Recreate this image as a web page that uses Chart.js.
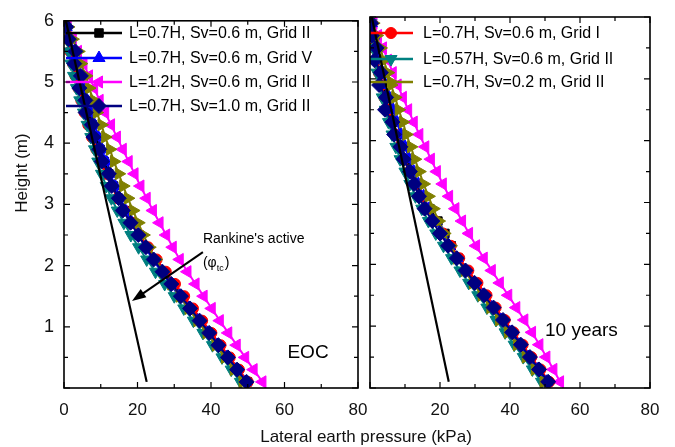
<!DOCTYPE html>
<html>
<head>
<meta charset="utf-8">
<script src="https://cdn.jsdelivr.net/npm/chart.js@4/dist/chart.umd.min.js"></script>
<style>
  body { margin: 0; background: #fff; }
  #wrap { position: relative; width: 675px; height: 447px; }
  #wrap canvas { position: absolute; left: 0; top: 0; }
</style>
</head>
<body>
<div id="wrap">
  <canvas id="eocChart" width="675" height="447"></canvas>
  <canvas id="yearsChart" width="675" height="447"></canvas>
</div>
<script>
// heights of the measuring points (m), shared by all series
const heights = [0.1,0.3,0.5,0.7,0.9,1.1,1.3,1.5,1.7,1.9,2.1,2.3,2.5,2.7,2.9,3.1,3.3,3.5,3.7,3.9,4.1,4.3,4.5,4.7,4.9,5.1,5.3,5.5,5.7,5.9];

const xTicks = [0, 20, 40, 60, 80];
const yTicks = [0, 1, 2, 3, 4, 5, 6];

const seriesLabels = [
  'L=0.7H, Sv=0.6 m, Grid II',
  'L=0.7H, Sv=0.6 m, Grid V',
  'L=1.2H, Sv=0.6 m, Grid II',
  'L=0.7H, Sv=1.0 m, Grid II',
  'L=0.7H, Sv=0.6 m, Grid I',
  'L=0.57H, Sv=0.6 m, Grid II',
  'L=0.7H, Sv=0.2 m, Grid II'
];

// lateral earth pressure (kPa) at end of construction
const eocBlack   = [49.9,47.4,44.9,42.3,39.8,37.2,34.6,32.1,29.6,27.1,24.7,22.5,20.4,18.3,16.4,14.9,13.5,12.2,11.0,9.8,8.7,7.7,6.6,5.7,4.7,3.8,2.9,2.1,1.3,0.5];
const eocBlue    = [49.3,46.8,44.2,41.6,39.0,36.4,33.9,31.3,28.9,26.5,24.2,22.1,20.2,18.4,16.7,15.2,13.9,12.6,11.5,10.3,9.3,8.3,7.3,6.3,5.3,4.3,3.3,2.4,1.5,0.6];
const eocMagenta = [54.0,51.6,49.3,47.0,44.7,42.4,40.2,38.0,35.8,33.6,31.5,29.6,27.8,26.0,24.2,22.5,20.8,19.2,17.6,16.0,14.4,12.8,11.2,9.7,8.2,6.8,5.3,3.8,2.4,1.0];
const eocNavy    = [49.7,47.1,44.6,42.0,39.5,36.9,34.3,31.8,29.2,26.8,24.4,22.3,20.2,18.1,16.0,14.9,13.0,12.2,10.3,9.6,8.0,7.6,5.9,5.8,4.2,4.6,2.8,3.1,1.3,0.6];
const eocRed     = [50.0,47.6,45.1,42.6,40.1,37.6,35.1,32.7,30.2,27.7,25.2,22.9,20.6,18.5,16.4,14.6,13.0,11.5,10.1,8.8,7.6,6.6,5.6,4.7,3.9,3.1,2.4,1.7,1.0,0.4];
const eocTeal    = [48.0,45.5,43.0,40.4,37.8,35.2,32.6,30.0,27.4,24.9,22.5,20.3,18.2,16.3,14.5,12.9,11.5,10.2,9.2,8.3,7.3,6.3,5.3,4.3,3.4,2.6,1.9,1.3,0.8,0.3];
const eocOlive   = [48.6,46.2,43.8,41.3,38.8,36.3,33.9,31.5,29.2,27.0,25.0,23.2,21.6,20.2,18.8,17.4,16.1,14.9,13.6,12.5,11.2,10.2,8.9,8.1,6.8,6.0,4.6,3.9,2.3,1.1];

// lateral earth pressure (kPa) after 10 years
const yrsBlack   = [50.7,48.2,45.6,43.1,40.5,37.9,35.3,32.7,30.1,27.5,25.2,23.2,21.4,19.4,17.1,14.9,13.2,11.6,10.2,8.9,7.7,6.6,5.5,4.5,3.6,2.8,2.0,1.3,0.7,0.3];
const yrsBlue    = [50.4,47.8,45.2,42.6,40.0,37.4,34.8,32.2,29.7,27.2,24.8,22.6,20.6,18.7,16.9,15.3,13.8,12.5,11.2,10.0,8.8,7.7,6.6,5.5,4.5,3.6,2.7,1.9,1.1,0.4];
const yrsMagenta = [54.3,52.4,50.4,48.4,46.3,44.1,41.8,39.5,37.1,34.8,32.5,30.3,28.3,26.3,24.4,22.6,20.8,19.1,17.4,15.8,14.1,12.5,10.9,9.4,7.9,6.5,5.1,3.7,2.3,1.0];
const yrsNavy    = [50.9,48.3,45.7,43.1,40.6,38.0,35.3,32.6,29.9,27.3,24.8,22.3,20.0,17.8,15.6,14.0,12.6,11.4,9.6,8.7,6.9,6.4,4.3,4.6,2.6,3.1,1.3,1.9,0.5,0.3];
const yrsRed     = [51.2,48.7,46.1,43.6,41.0,38.5,35.9,33.3,30.7,28.1,25.5,23.1,20.8,18.6,16.4,14.5,12.8,11.2,9.7,8.4,7.2,6.1,5.1,4.1,3.2,2.5,1.8,1.2,0.6,0.2];
const yrsTeal    = [49.0,46.4,43.8,41.2,38.6,36.0,33.4,30.8,28.2,25.7,23.3,21.0,18.8,16.7,14.8,13.0,11.4,10.0,8.6,7.4,6.3,5.3,4.4,3.5,2.7,2.0,1.4,0.9,0.5,0.2];
const yrsOlive   = [49.6,47.1,44.5,42.0,39.4,36.9,34.4,31.9,29.4,27.1,24.9,23.0,21.2,19.6,18.1,16.7,15.3,14.1,12.8,11.7,10.4,9.4,8.2,7.2,6.0,5.1,3.9,3.0,1.9,0.9];

// Rankine's active line (two end points)
const rankineHeight   = [6.0, 0.1];
const rankinePressure = [0.5, 22.5];

// marker styling, same order as seriesLabels
const seriesColors = ['#000000', '#0000ff', '#ff00ff', '#000080', '#ff0000', '#008080', '#808000'];
const seriesShapes = ['rect', 'triangle', 'triangle', 'rectRot', 'circle', 'triangle', 'triangle'];
const seriesRotation = [0, 0, 270, 0, 0, 180, 90];
const seriesRadius = [6, 7, 7, 7.5, 5.5, 7, 7];
const seriesOrder = [6, 4, 7, 1, 5, 3, 2];

Chart.defaults.font.family = '"Liberation Sans", Arial, sans-serif';
Chart.defaults.color = '#111';

function buildDatasets(valueSets) {
  const sets = valueSets.map((vals, i) => ({
    label: seriesLabels[i],
    data: heights.map((h, k) => ({ x: vals[k], y: h })),
    showLine: true,
    borderColor: seriesColors[i],
    backgroundColor: seriesColors[i],
    pointBackgroundColor: seriesColors[i],
    pointBorderColor: seriesColors[i],
    borderWidth: 2,
    pointBorderWidth: 1,
    pointStyle: seriesShapes[i],
    rotation: seriesRotation[i],
    pointRadius: seriesRadius[i],
    order: seriesOrder[i]
  }));
  sets.push({
    label: 'Rankine',
    data: rankineHeight.map((h, k) => ({ x: rankinePressure[k], y: h })),
    showLine: true,
    borderColor: '#000',
    borderWidth: 2.2,
    pointRadius: 0,
    order: 0
  });
  return sets;
}

function decorPlugin(cfg) {
  return {
    id: 'decor',
    afterDatasetsDraw(chart) {
      const ctx = chart.ctx;
      const { x, y } = chart.scales;
      ctx.save();
      // legend inside the panel
      cfg.legend.forEach((idx, r) => {
        const ds = chart.data.datasets[idx];
        const yy = cfg.legendRows[r];
        ctx.strokeStyle = ds.borderColor;
        ctx.fillStyle = ds.borderColor;
        ctx.lineWidth = 2.5;
        ctx.beginPath();
        ctx.moveTo(cfg.legendX[0], yy);
        ctx.lineTo(cfg.legendX[1], yy);
        ctx.stroke();
        ctx.lineWidth = 1;
        Chart.helpers.drawPoint(ctx, {
          pointStyle: ds.pointStyle, rotation: ds.rotation,
          radius: ds.pointRadius, borderWidth: 1
        }, cfg.legendX[2], yy);
        ctx.fillStyle = '#000';
        ctx.font = '16px "Liberation Sans", Arial, sans-serif';
        ctx.textBaseline = 'middle';
        ctx.textAlign = 'left';
        ctx.fillText(ds.label, cfg.legendX[3], yy + 1);
      });
      // panel label
      ctx.fillStyle = '#000';
      ctx.font = '19px "Liberation Sans", Arial, sans-serif';
      ctx.textAlign = 'center';
      ctx.textBaseline = 'middle';
      ctx.fillText(cfg.tag[0], x.getPixelForValue(cfg.tag[1]), y.getPixelForValue(cfg.tag[2]));
      if (cfg.rankineNote) {
        const tx = x.getPixelForValue(37.8), ty = y.getPixelForValue(2.43);
        ctx.textAlign = 'left';
        ctx.font = '14px "Liberation Sans", Arial, sans-serif';
        ctx.fillText("Rankine's active", tx, ty);
        ctx.fillText('(φ', tx, ty + 24);
        let w = ctx.measureText('(φ').width;
        ctx.font = '9px "Liberation Sans", Arial, sans-serif';
        ctx.fillText('tc', tx + w, ty + 29);
        w += ctx.measureText('tc').width + 1;
        ctx.font = '14px "Liberation Sans", Arial, sans-serif';
        ctx.fillText(')', tx + w, ty + 24);
        // arrow
        const x0 = x.getPixelForValue(37.8), y0 = y.getPixelForValue(2.22);
        const x1 = x.getPixelForValue(18.5), y1 = y.getPixelForValue(1.42);
        const ang = Math.atan2(y1 - y0, x1 - x0);
        ctx.strokeStyle = '#000';
        ctx.lineWidth = 2;
        ctx.beginPath();
        ctx.moveTo(x0, y0);
        ctx.lineTo(x1 - 10 * Math.cos(ang), y1 - 10 * Math.sin(ang));
        ctx.stroke();
        ctx.beginPath();
        ctx.moveTo(x1, y1);
        ctx.lineTo(x1 - 14 * Math.cos(ang) + 5 * Math.sin(ang), y1 - 14 * Math.sin(ang) - 5 * Math.cos(ang));
        ctx.lineTo(x1 - 14 * Math.cos(ang) - 5 * Math.sin(ang), y1 - 14 * Math.sin(ang) + 5 * Math.cos(ang));
        ctx.closePath();
        ctx.fill();
      }
      ctx.restore();
    },
    afterDraw(chart) {
      const ctx = chart.ctx;
      const a = chart.chartArea;
      const { x, y } = chart.scales;
      ctx.save();
      ctx.strokeStyle = '#000';
      ctx.lineWidth = 1.6;
      ctx.strokeRect(a.left, a.top, a.right - a.left, a.bottom - a.top);
      ctx.lineWidth = 1.2;
      ctx.beginPath();
      for (let v = 0; v <= 80; v += 10) {
        const px = x.getPixelForValue(v), len = v % 20 === 0 ? 6 : 4;
        ctx.moveTo(px, a.bottom); ctx.lineTo(px, a.bottom - len);
        ctx.moveTo(px, a.top); ctx.lineTo(px, a.top + len);
      }
      for (let v = 0; v <= 6; v += 0.5) {
        const py = y.getPixelForValue(v), len = v % 1 === 0 ? 6 : 4;
        ctx.moveTo(a.left, py); ctx.lineTo(a.left + len, py);
        ctx.moveTo(a.right, py); ctx.lineTo(a.right - len, py);
      }
      ctx.stroke();
      if (cfg.axisTitles) {
        ctx.fillStyle = '#111';
        ctx.font = '17px "Liberation Sans", Arial, sans-serif';
        ctx.textAlign = 'center';
        ctx.textBaseline = 'middle';
        ctx.fillText('Lateral earth pressure (kPa)', 366, 437);
        ctx.translate(22, 173);
        ctx.rotate(-Math.PI / 2);
        ctx.fillText('Height (m)', 0, 0);
      }
      ctx.restore();
    }
  };
}

function makePanel(canvasId, valueSets, opts) {
  return new Chart(document.getElementById(canvasId), {
    type: 'scatter',
    data: { datasets: buildDatasets(valueSets) },
    options: {
      responsive: false,
      animation: false,
      layout: { padding: opts.padding },
      plugins: { legend: { display: false }, tooltip: { enabled: false } },
      scales: {
        x: {
          type: 'linear', min: 0, max: 80,
          grid: { display: false, drawTicks: false },
          border: { display: false },
          afterFit: s => { s.height = 59; },
          afterBuildTicks: s => { s.ticks = xTicks.map(v => ({ value: v })); },
          ticks: {
            padding: 12,
            font: { size: 17 },
            callback: v => (opts.hideZeroX && v === 0) ? '' : v
          }
        },
        y: {
          type: 'linear', min: 0, max: 6,
          grid: { display: false, drawTicks: false },
          border: { display: false },
          afterFit: s => { s.width = opts.yWidth; },
          afterBuildTicks: s => { s.ticks = yTicks.map(v => ({ value: v })); },
          ticks: {
            display: opts.showY,
            padding: 10,
            font: { size: 18 },
            callback: v => v === 0 ? '' : v
          }
        }
      }
    },
    plugins: [decorPlugin(opts.decor)]
  });
}

makePanel('eocChart',
  [eocBlack, eocBlue, eocMagenta, eocNavy, eocRed, eocTeal, eocOlive],
  {
    padding: { left: 0, right: 317, top: 17, bottom: 0 },
    yWidth: 64, showY: true, hideZeroX: false,
    decor: {
      legend: [0, 1, 2, 3], legendRows: [33, 58, 82, 106], legendX: [66, 122, 99, 129],
      tag: ['EOC', 66.4, 0.58], rankineNote: true, axisTitles: true
    }
  });

makePanel('yearsChart',
  [yrsBlack, yrsBlue, yrsMagenta, yrsNavy, yrsRed, yrsTeal, yrsOlive],
  {
    padding: { left: 360, right: 25, top: 17, bottom: 0 },
    yWidth: 10, showY: false, hideZeroX: true,
    decor: {
      legend: [4, 5, 6], legendRows: [33, 59, 82], legendX: [370, 413, 391, 423],
      tag: ['10 years', 60.4, 0.93], rankineNote: false, axisTitles: false
    }
  });
</script>
</body>
</html>
